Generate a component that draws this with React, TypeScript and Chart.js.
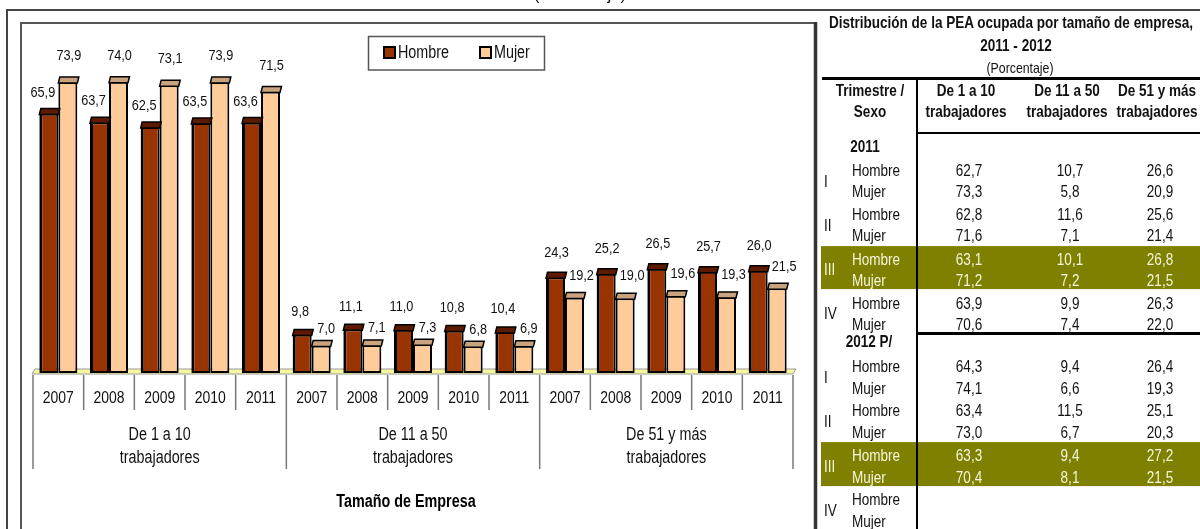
import React, { useEffect, useRef } from "react";
import { Chart, registerables } from "chart.js";
Chart.register(...registerables);

const FONT = "'Liberation Sans', Arial, sans-serif";
const NARROW = 0.82;

// ---- chart data ----
const groupLabels = [
  ["De 1 a 10", "trabajadores"],
  ["De 11 a 50", "trabajadores"],
  ["De 51 y más", "trabajadores"],
];
const years = ["2007", "2008", "2009", "2010", "2011"];
const hombre = [65.9, 63.7, 62.5, 63.5, 63.6, 9.8, 11.1, 11.0, 10.8, 10.4, 24.3, 25.2, 26.5, 25.7, 26.0];
const mujer = [73.9, 74.0, 73.1, 73.9, 71.5, 7.0, 7.1, 7.3, 6.8, 6.9, 19.2, 19.0, 19.6, 19.3, 21.5];
const seriesNames = ["Hombre", "Mujer"];
const axisTitle = "Tamaño de Empresa";

// ---- table data ----
const tableTitle = ["Distribución de la PEA ocupada por tamaño de empresa,", "2011 - 2012"];
const tableUnit = "(Porcentaje)";
const tableHeads = [["Trimestre /", "Sexo"], ["De 1 a 10", "trabajadores"], ["De 11 a 50", "trabajadores"], ["De 51 y más", "trabajadores"]];
const quarters = ["I", "II", "III", "IV"];
const yearBlocks = ["2011", "2012 P/"];
const h2011 = [[62.7, 10.7, 26.6], [62.8, 11.6, 25.6], [63.1, 10.1, 26.8], [63.9, 9.9, 26.3]];
const m2011 = [[73.3, 5.8, 20.9], [71.6, 7.1, 21.4], [71.2, 7.2, 21.5], [70.6, 7.4, 22.0]];
const h2012 = [[64.3, 9.4, 26.4], [63.4, 11.5, 25.1], [63.3, 9.4, 27.2], null];
const m2012 = [[74.1, 6.6, 19.3], [73.0, 6.7, 20.3], [70.4, 8.1, 21.5], null];

// ---- styles ----
const COLORS = ["#993300", "#FFCC99"];
const CAPS = ["#5E1A00", "#C9A27E"];
const OLIVE = "#808000";
const LBL_DX = [[-6, -2, 1], [1, 5, 7]];
const LBL_DY = [[-21, -23, -25], [-26, -17, -22]];
const COL_X = [870, 969, 1070, 1160];
const BLOCK_Y = [170, 366];
const MUJER_OFF = [21, 22];
const Q_STEP = 44.3;

const fmt = (v: number) => v.toFixed(1).replace(".", ",");

function nText(ctx: any, txt: string, x: number, y: number, size: number, bold = false, align = "center") {
  ctx.save();
  ctx.translate(x, y);
  ctx.scale(NARROW, 1);
  ctx.font = `${bold ? "bold " : ""}${size}px ${FONT}`;
  ctx.textAlign = align;
  ctx.textBaseline = "middle";
  ctx.fillText(txt, 0, 0);
  ctx.restore();
}

const decor = {
  id: "decor",
  beforeDraw(chart: any) {
    const ctx = chart.ctx;
    ctx.save();
    ctx.fillStyle = "#fff";
    ctx.fillRect(0, 0, chart.width, chart.height);
    // highlight bands (quarter III)
    ctx.fillStyle = OLIVE;
    for (let b = 0; b < 2; b++) {
      const hy = BLOCK_Y[b] + 2 * Q_STEP;
      const my = hy + MUJER_OFF[b];
      ctx.fillRect(821, hy - 12.5, 1200 - 821, my + 9.5 - (hy - 12.5));
    }
    // frames
    ctx.strokeStyle = "#444";
    ctx.lineWidth = 2;
    ctx.beginPath();
    ctx.moveTo(7, 529); ctx.lineTo(7, 10); ctx.lineTo(1200, 10);
    ctx.stroke();
    ctx.strokeStyle = "#555";
    ctx.beginPath();
    ctx.moveTo(21, 529); ctx.lineTo(21, 23); ctx.lineTo(816, 23);
    ctx.stroke();
    ctx.lineWidth = 3.5;
    ctx.strokeStyle = "#333";
    ctx.beginPath();
    ctx.moveTo(815.5, 22); ctx.lineTo(815.5, 529);
    ctx.stroke();
    // table lines
    ctx.strokeStyle = "#000";
    ctx.lineWidth = 3;
    ctx.beginPath(); ctx.moveTo(822, 78.5); ctx.lineTo(1200, 78.5); ctx.stroke();
    ctx.beginPath(); ctx.moveTo(917, 333.5); ctx.lineTo(1200, 333.5); ctx.stroke();
    ctx.lineWidth = 2;
    ctx.beginPath(); ctx.moveTo(917, 133); ctx.lineTo(1200, 133); ctx.stroke();
    ctx.beginPath(); ctx.moveTo(917, 78); ctx.lineTo(917, 529); ctx.stroke();
    ctx.restore();
  },
  beforeDatasetsDraw(chart: any) {
    const ctx = chart.ctx;
    const { left, right } = chart.chartArea;
    const base = chart.scales.y.getPixelForValue(0);
    ctx.save();
    ctx.fillStyle = "#F6F6A0";
    ctx.strokeStyle = "#999";
    ctx.lineWidth = 1;
    ctx.beginPath();
    ctx.moveTo(left - 1, base + 1);
    ctx.lineTo(right, base + 1);
    ctx.lineTo(right + 3, base - 4);
    ctx.lineTo(left + 2, base - 4);
    ctx.closePath();
    ctx.fill();
    ctx.stroke();
    ctx.restore();
  },
  afterDatasetsDraw(chart: any) {
    const ctx = chart.ctx;
    const xs = chart.scales.x;
    const base = chart.scales.y.getPixelForValue(0);
    ctx.save();
    // caps and value labels
    chart.data.datasets.forEach((ds: any, di: number) => {
      const meta = chart.getDatasetMeta(di);
      meta.data.forEach((el: any, i: number) => {
        const { x, y, width } = el.getProps(["x", "y", "width"], true);
        const l = x - width / 2;
        ctx.fillStyle = CAPS[di];
        ctx.strokeStyle = "#000";
        ctx.lineWidth = 1.5;
        ctx.beginPath();
        ctx.moveTo(l, y + 1);
        ctx.lineTo(l + 1.5, y - 5);
        ctx.lineTo(l + width + 1.5, y - 5);
        ctx.lineTo(l + width, y + 1);
        ctx.closePath();
        ctx.fill();
        ctx.stroke();
        const g = Math.floor(i / years.length);
        ctx.fillStyle = "#111";
        nText(ctx, fmt(ds.data[i]), x + LBL_DX[di][g], y + LBL_DY[di][g], 15.5);
      });
    });
    // category axis
    const n = chart.data.labels.length;
    const step = (xs.right - xs.left) / n;
    ctx.strokeStyle = "#777";
    ctx.lineWidth = 1.5;
    for (let i = 0; i <= n; i++) {
      const px = xs.left + i * step;
      const isGroup = i % years.length === 0;
      ctx.beginPath();
      ctx.moveTo(px, base + 2);
      ctx.lineTo(px, isGroup ? base + 96 : base + 37);
      ctx.stroke();
    }
    ctx.fillStyle = "#111";
    chart.data.labels.forEach((lab: string, i: number) => {
      nText(ctx, lab, xs.getPixelForValue(i), base + 25, 17);
    });
    groupLabels.forEach((gl, g) => {
      const cx = xs.getPixelForValue(g * years.length + 2);
      nText(ctx, gl[0], cx, base + 62, 17.5);
      nText(ctx, gl[1], cx, base + 85, 17.5);
    });
    ctx.fillStyle = "#000";
    nText(ctx, axisTitle, 406, 502, 17.5, true);
    // legend
    ctx.strokeStyle = "#555";
    ctx.lineWidth = 1.5;
    ctx.strokeRect(368.5, 36.5, 176, 33.5);
    const lx = [384, 480];
    seriesNames.forEach((nm, k) => {
      ctx.fillStyle = COLORS[k];
      ctx.fillRect(lx[k], 47, 11, 11);
      ctx.strokeStyle = "#000";
      ctx.lineWidth = 2;
      ctx.strokeRect(lx[k], 47, 11, 11);
      ctx.fillStyle = "#111";
      nText(ctx, nm, lx[k] + 14, 53, 17.5, false, "left");
    });
    ctx.restore();
  },
};

function TableText() {
  const cell = (txt: string, x: number, y: number, opts: any = {}) => {
    const left = opts.align === "left";
    return (
      <div
        key={`${txt}-${x}-${y}`}
        style={{
          position: "absolute",
          left: left ? x : x - 300,
          top: y - 10,
          width: left ? 200 : 600,
          height: 20,
          lineHeight: "20px",
          textAlign: left ? "left" : "center",
          fontSize: opts.size || 16.5,
          fontWeight: opts.bold ? "bold" : "normal",
          color: opts.color || "#111",
          whiteSpace: "nowrap",
          fontFamily: FONT,
          transform: `scaleX(${NARROW})`,
          transformOrigin: left ? "left center" : "center center",
        }}
      >
        {txt}
      </div>
    );
  };
  const items: any[] = [];
  items.push(cell(tableTitle[0], 1011, 22, { bold: true, size: 16.5 }));
  items.push(cell(tableTitle[1], 1016, 45, { bold: true, size: 16.5 }));
  items.push(cell(tableUnit, 1020, 68, { size: 15 }));
  tableHeads.forEach((h, c) => {
    const cx = c === 0 ? COL_X[0] : COL_X[c] - 3;
    items.push(cell(h[0], cx, 90, { bold: true }));
    items.push(cell(h[1], cx, 111, { bold: true }));
  });
  const blocks = [[h2011, m2011], [h2012, m2012]];
  blocks.forEach((blk, b) => {
    items.push(cell(yearBlocks[b], b === 0 ? 865 : 869, BLOCK_Y[b] - 24 + (b === 1 ? -1 : 0), { bold: true }));
    quarters.forEach((q, qi) => {
      const hy = BLOCK_Y[b] + qi * Q_STEP;
      const my = hy + MUJER_OFF[b];
      const light = qi === 2;
      const col = light ? "#F4F4DC" : "#111";
      items.push(cell(q, 824, (hy + my) / 2, { align: "left", color: col }));
      items.push(cell("Hombre", 852, hy, { align: "left", color: col }));
      items.push(cell("Mujer", 852, my, { align: "left", color: col }));
      [blk[0][qi], blk[1][qi]].forEach((vals, s) => {
        if (!vals) return;
        vals.forEach((v: number, c: number) => {
          items.push(cell(fmt(v), COL_X[c + 1], s === 0 ? hy : my, { color: col }));
        });
      });
    });
  });
  return <>{items}</>;
}

export default function App() {
  const ref = useRef<HTMLCanvasElement>(null);
  useEffect(() => {
    const chart = new Chart(ref.current!, {
      type: "bar",
      data: {
        labels: groupLabels.flatMap(() => years),
        datasets: [
          { label: seriesNames[0], data: hombre, backgroundColor: COLORS[0], borderColor: "#000", borderWidth: { left: 3, right: 2, top: 2, bottom: 2 }, borderSkipped: false },
          { label: seriesNames[1], data: mujer, backgroundColor: COLORS[1], borderColor: "#000", borderWidth: { left: 2, right: 2, top: 2, bottom: 2 }, borderSkipped: false },
        ],
      },
      options: {
        animation: false,
        responsive: false,
        maintainAspectRatio: false,
        events: [],
        layout: { padding: { left: 33, right: 1200 - 793, top: 58, bottom: 529 - 373 } },
        datasets: { bar: { categoryPercentage: 0.75, barPercentage: 1 } } as any,
        plugins: { legend: { display: false }, tooltip: { enabled: false }, title: { display: false } },
        scales: {
          x: { display: false },
          y: { display: false, min: 0, max: 80 },
        },
      },
      plugins: [decor],
    });
    return () => chart.destroy();
  }, []);
  return (
    <div style={{ position: "fixed", left: 0, top: 0, width: 1200, height: 529, overflow: "hidden", background: "#fff" }}>
      <canvas ref={ref} width={1200} height={529} style={{ position: "absolute", left: 0, top: 0, width: 1200, height: 529 }} />
      <div
        style={{ position: "absolute", left: 430, top: -14, width: 300, textAlign: "center", fontFamily: FONT, fontSize: 17, lineHeight: "17px", color: "#111" }}
      >
        {tableUnit}
      </div>
      <TableText />
    </div>
  );
}
